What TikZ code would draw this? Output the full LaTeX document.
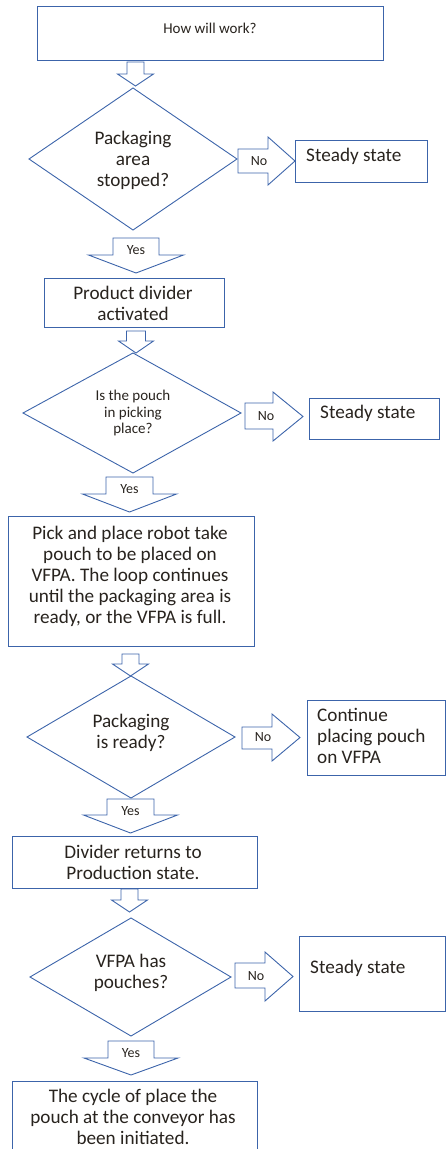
\documentclass[tikz,border=0pt]{standalone}
\usepackage{fontspec}
\setmainfont{Carlito}
\definecolor{ln}{RGB}{60,100,170}
\definecolor{tx}{RGB}{40,35,30}
\tikzset{
 shp/.style={draw=ln, line width=0.9pt, line join=miter},
 big/.style={font=\fontsize{19.2}{21}\selectfont, text=tx, align=center, inner sep=0pt},
 bigl/.style={font=\fontsize{19.2}{21}\selectfont, text=tx, align=left, inner sep=0pt, anchor=west},
 small/.style={font=\fontsize{15}{16.5}\selectfont, text=tx, align=center, inner sep=0pt},
 lbl/.style={font=\fontsize{14}{15}\selectfont, text=tx, inner sep=0pt},
}
\newcommand{\darrow}[6]{\draw[shp] ({#1-#3},#2) -- ({#1+#3},#2) -- ({#1+#3},#4) -- ({#1+#5},#4) -- (#1,#6) -- ({#1-#5},#4) -- ({#1-#3},#4) -- cycle;}
\newcommand{\rarrow}[7]{\draw[shp] (#1,#2) -- (#4,#2) -- (#4,#5) -- (#7,{(#5+#6)/2}) -- (#4,#6) -- (#4,#3) -- (#1,#3) -- cycle;}
\begin{document}
\begin{tikzpicture}[x=1pt,y=-1pt]
\useasboundingbox (0,0) rectangle (446,1149);
% boxes
\draw[shp] (37,6) rectangle (383,60);
\node[small] (b0) at (210,28) {How will work?};
\draw[shp] (295,140) rectangle (427,182);
\node[bigl] (s1) at (306,156) {Steady state};
\draw[shp] (44,278) rectangle (224,327);
\node[big] (p1) at (133,303) {Product divider\\activated};
\draw[shp] (309,398) rectangle (439,439);
\node[bigl] (s2) at (320,413) {Steady state};
\draw[shp] (8,516) rectangle (254,646);
\node[big] (p2) at (130,576) {Pick and place robot take\\pouch to be placed on\\VFPA. The loop continues\\until the packaging area is\\ready, or the VFPA is full.};
\draw[shp] (307,700) rectangle (445.5,775);
\node[bigl] (c1) at (317,736) {Continue\\placing pouch\\on VFPA};
\draw[shp] (12,836) rectangle (257,888);
\node[big] (p3) at (133,862) {Divider returns to\\Production state.};
\draw[shp] (299,936) rectangle (445.5,1011);
\node[bigl] (s3) at (310,968) {Steady state};
\draw[shp] (12,1160) -- (12,1081) -- (257,1081) -- (257,1160);
\node[big] (p4) at (133,1117) {The cycle of place the\\pouch at the conveyor has\\been initiated.};
% diamonds
\draw[shp] (133,88) -- (237,159) -- (133,230) -- (29,159) -- cycle;
\node[big] (d1) at (133,160) {Packaging\\area\\stopped?};
\draw[shp] (133,353) -- (241,413) -- (133,473) -- (23,413) -- cycle;
\node[small] (d2) at (133,413) {Is the pouch\\in picking\\place?};
\draw[shp] (131,676) -- (235,737) -- (131,798) -- (27,737) -- cycle;
\node[big] (d3) at (131,733) {Packaging\\is ready?};
\draw[shp] (131,918) -- (231,977) -- (131,1036) -- (30,977) -- cycle;
\node[big] (d4) at (131,973) {VFPA has\\pouches?};
% down arrows
\darrow{135.5}{62}{8.5}{74}{18}{86}
\darrow{136}{238}{23}{255}{47.5}{273}
\node[lbl] (y1) at (136,250) {Yes};
\darrow{136}{331}{9.5}{341}{17.5}{353}
\darrow{129.5}{477}{23.5}{494}{47}{512}
\node[lbl] (y2) at (129.5,489) {Yes};
\darrow{130.5}{654}{8.5}{664}{18}{676}
\darrow{130.5}{799}{23.5}{815}{47}{833}
\node[lbl] (y3) at (130.5,811) {Yes};
\darrow{129.5}{889}{8.5}{900}{18}{912}
\darrow{131}{1041}{23}{1058}{47}{1075}
\node[lbl] (y4) at (131,1053) {Yes};
% right arrows
\rarrow{238}{149}{173}{268}{137}{185}{295}
\node[lbl] (n1) at (259,161) {No};
\rarrow{245}{403}{429}{273}{392}{441}{303}
\node[lbl] (n2) at (266,416) {No};
\rarrow{242}{727}{749}{272}{714}{761}{300}
\node[lbl] (n3) at (263,737) {No};
\rarrow{235}{963}{988}{265}{952}{1001}{293}
\node[lbl] (n4) at (256,976) {No};
\end{tikzpicture}
\end{document}
